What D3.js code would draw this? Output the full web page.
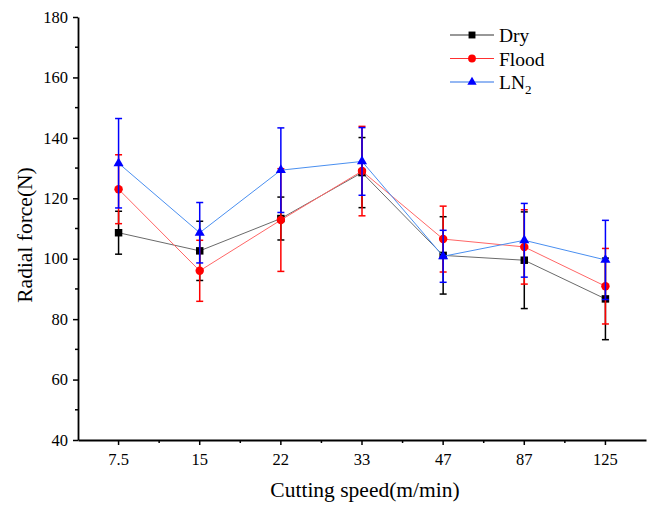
<!DOCTYPE html>
<html>
<head>
<meta charset="utf-8">
<script src="https://cdn.jsdelivr.net/npm/d3@7"></script>
<style>
  body { margin: 0; background: #fff; }
  text { font-family: "Liberation Serif", "Times New Roman", serif; }
</style>
</head>
<body>
<div id="chart"></div>
<script>
const speeds = ['7.5', '15', '22', '33', '47', '87', '125'];
const dry = [108.6, 102.6, 113.3, 128.5, 101.1, 99.5, 86.7];
const dryErr = [7.1, 9.8, 7.1, 11.6, 12.8, 16.0, 13.5];
const flood = [123.0, 96.0, 112.8, 129.0, 106.5, 103.9, 90.9];
const floodErr = [11.4, 10.1, 17.0, 14.8, 10.9, 12.3, 12.5];
const ln2 = [131.6, 108.6, 129.3, 132.2, 100.8, 106.1, 99.6];
const ln2Err = [14.8, 10.0, 14.0, 11.2, 8.6, 12.2, 13.1];
const yTicks = [40, 60, 80, 100, 120, 140, 160, 180];

const series = [
  { name: 'Dry', values: dry, err: dryErr, line: '#6a6a6a', legendLine: '#333', mark: '#000', symbol: d3.symbolSquare, size: 56 },
  { name: 'Flood', values: flood, err: floodErr, line: '#ff6666', legendLine: '#ff3030', mark: '#ff0000', symbol: d3.symbolCircle, size: 56 },
  { name: 'LN2', values: ln2, err: ln2Err, line: '#4a8ff0', legendLine: '#2a70e8', mark: '#0000ff', symbol: d3.symbolTriangle, size: 44 }
];

const width = 648, height = 505;
const svg = d3.select('#chart').append('svg').attr('width', width).attr('height', height);

const x = d3.scaleBand().domain(speeds).range([78, 646]);
const cx = d => x(d) + x.bandwidth() / 2;
const y = d3.scaleLinear().domain([40, 180]).range([440, 17]);

// axes
const xAxis = svg.append('g').attr('transform', 'translate(0,440)')
  .call(d3.axisBottom(x).tickSize(5).tickSizeOuter(0));
const yAxis = svg.append('g').attr('transform', 'translate(78,0)')
  .call(d3.axisLeft(y).tickValues(yTicks).tickSize(5).tickSizeOuter(0));
[xAxis, yAxis].forEach(a => {
  a.select('.domain').attr('stroke', '#000').attr('stroke-width', 1.8);
  a.selectAll('.tick line').attr('stroke', '#000').attr('stroke-width', 1.5);
  a.selectAll('.tick text').attr('font-size', 16.5).attr('fill', '#000')
    .style('font-family', '"Liberation Serif", "Times New Roman", serif');
});
xAxis.selectAll('.tick text').attr('dy', '1.03em');
yAxis.selectAll('.tick text').attr('x', -10);

// minor ticks
svg.append('g').selectAll('line').data(speeds.slice(1)).join('line')
  .attr('x1', d => x(d)).attr('x2', d => x(d)).attr('y1', 440).attr('y2', 443)
  .attr('stroke', '#000').attr('stroke-width', 1.5);
svg.append('g').selectAll('line').data(d3.range(50, 180, 20)).join('line')
  .attr('x1', 75).attr('x2', 78).attr('y1', d => y(d)).attr('y2', d => y(d))
  .attr('stroke', '#000').attr('stroke-width', 1.5);

// axis titles
svg.append('text').attr('x', 365).attr('y', 497).attr('text-anchor', 'middle')
  .attr('font-size', 21.5).text('Cutting speed(m/min)');
svg.append('text').attr('transform', 'translate(32,235) rotate(-90)').attr('text-anchor', 'middle')
  .attr('font-size', 21.5).text('Radial force(N)');

// series
const line = d3.line().x((d, i) => cx(speeds[i])).y(d => y(d));
series.forEach(s => {
  const g = svg.append('g');
  g.append('path').datum(s.values).attr('fill', 'none').attr('stroke', s.line)
    .attr('stroke-width', 1).attr('d', line);
  const eb = g.selectAll('.eb').data(s.values).join('g');
  eb.append('line')
    .attr('x1', (d, i) => cx(speeds[i])).attr('x2', (d, i) => cx(speeds[i]))
    .attr('y1', (d, i) => y(d + s.err[i])).attr('y2', (d, i) => y(d - s.err[i]))
    .attr('stroke', s.mark).attr('stroke-width', 1.5);
  [1, -1].forEach(sign => {
    eb.append('line')
      .attr('x1', (d, i) => cx(speeds[i]) - 3.5).attr('x2', (d, i) => cx(speeds[i]) + 3.5)
      .attr('y1', (d, i) => y(d + sign * s.err[i])).attr('y2', (d, i) => y(d + sign * s.err[i]))
      .attr('stroke', s.mark).attr('stroke-width', 1.5);
  });
  g.selectAll('.pt').data(s.values).join('path')
    .attr('transform', (d, i) => `translate(${cx(speeds[i])},${y(d)})`)
    .attr('d', d3.symbol().type(s.symbol).size(s.size)).attr('fill', s.mark);
});

// legend
const legend = svg.append('g');
series.forEach((s, i) => {
  const yy = 35 + i * 23.5;
  legend.append('line').attr('x1', 450).attr('x2', 494).attr('y1', yy).attr('y2', yy)
    .attr('stroke', s.legendLine).attr('stroke-width', 1.2);
  legend.append('path').attr('transform', `translate(472,${yy})`)
    .attr('d', d3.symbol().type(s.symbol).size(s.size * 0.85)).attr('fill', s.mark);
  const t = legend.append('text').attr('x', 499).attr('y', yy + 7).attr('font-size', 19.5);
  if (s.name === 'LN2') {
    t.append('tspan').text('LN');
    t.append('tspan').attr('font-size', 13).attr('dy', 5).text('2');
  } else {
    t.text(s.name);
  }
});
</script>
</body>
</html>
